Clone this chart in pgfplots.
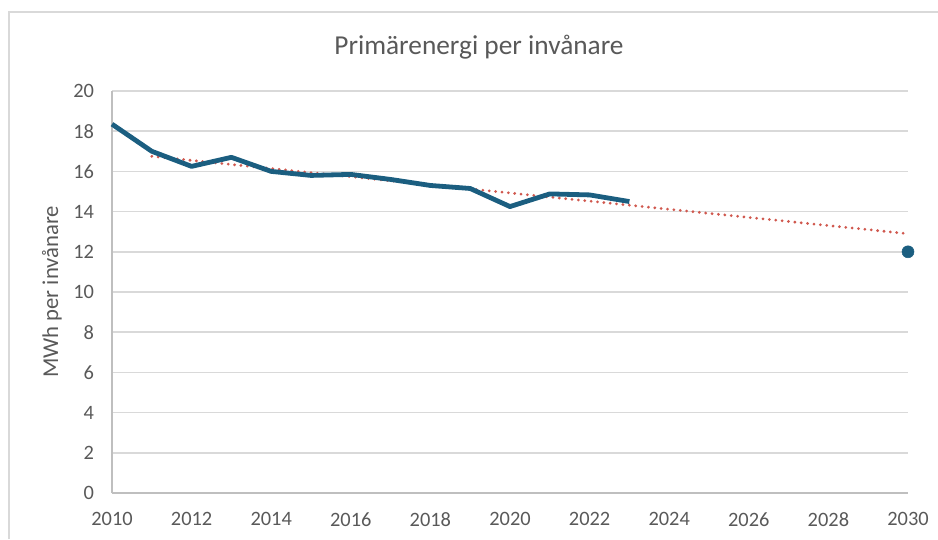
\documentclass[border=0pt]{standalone}
\usepackage{pgfplots}
\pgfplotsset{compat=1.18}
\usepackage{fontspec}
\setmainfont{Carlito}
\definecolor{txtgray}{HTML}{595959}
\definecolor{gridgray}{HTML}{D9D9D9}
\definecolor{axgray}{HTML}{BFBFBF}
\definecolor{lineblue}{HTML}{1B5E80}
\definecolor{trendred}{HTML}{D0584E}
\begin{document}
\begin{tikzpicture}
\path[use as bounding box] (0,0) rectangle (703.5pt,404.25pt);
\draw[gridgray, line width=1.3pt] (6.75pt,0) -- (6.75pt,395.25pt) -- (703.5pt,395.25pt);
\begin{axis}[
  at={(84pt,34.5pt)}, anchor=south west,
  scale only axis, width=597pt, height=301.5pt,
  xmin=2010, xmax=2030, ymin=0, ymax=20,
  xtick={2010,2012,...,2030}, ytick={0,2,...,20},
  axis x line=bottom, axis y line=left,
  axis line style={-, axgray, line width=1.2pt},
  major tick length=0pt,
  ymajorgrids, grid style={gridgray, line width=1.2pt},
  /pgf/number format/1000 sep={},
  /pgf/number format/assume math mode=true,
  tick label style={font=\fontsize{15.3}{18}\selectfont, text=txtgray},
  xticklabel style={yshift=-11pt},
  yticklabel style={xshift=-10pt},
  ylabel={MWh per invånare},
  ylabel style={at={(axis description cs:-0.0754,0.5)}, anchor=center, font=\fontsize{17}{20}\selectfont, text=txtgray},
  title={Primärenergi per invånare},
  title style={at={(axis description cs:0.461,1.088)}, anchor=center, font=\fontsize{20.5}{24}\selectfont, text=txtgray},
  clip=false,
]
\addplot[trendred, line width=2.3pt, line cap=round, dash pattern=on 0pt off 4.8pt] coordinates {(2011,16.75) (2030,12.9)};
\addplot[lineblue, line width=3.6pt, line join=round] coordinates {
(2010,18.35) (2011,17.0) (2012,16.25) (2013,16.7) (2014,16.0) (2015,15.8) (2016,15.85) (2017,15.6) (2018,15.3) (2019,15.15) (2020,14.25) (2021,14.88) (2022,14.83) (2023,14.5)};
\addplot[only marks, mark=*, mark size=4.5pt, mark options={fill=lineblue, draw=lineblue}] coordinates {(2030,12)};
\end{axis}
\end{tikzpicture}
\end{document}
